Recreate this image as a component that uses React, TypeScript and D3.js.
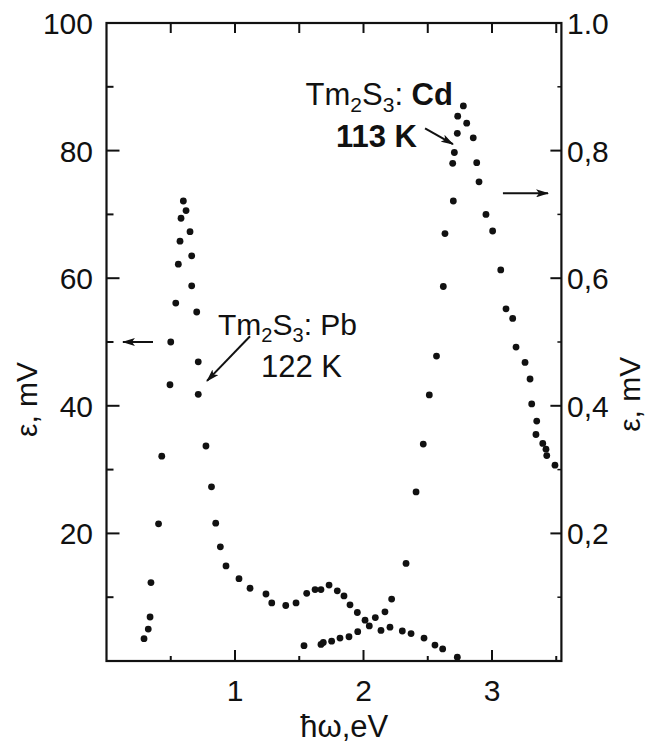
import React from 'react';
import * as d3 from 'd3';

// Tm2S3:Pb, 122 K  (left axis, mV)
const pbEnergy = [0.292, 0.325, 0.339, 0.346, 0.405, 0.430, 0.494, 0.500, 0.539, 0.559, 0.572, 0.580, 0.598,
  0.619, 0.650, 0.663, 0.663, 0.702, 0.714, 0.714, 0.774, 0.817, 0.850, 0.886, 0.930, 1.031, 1.117, 1.241,
  1.286, 1.395, 1.475, 1.558, 1.623, 1.669, 1.732, 1.796, 1.848, 1.895, 1.952, 2.012, 2.136, 2.206, 2.302,
  2.370, 2.471, 2.556, 2.616, 2.730];
const pbSignal = [3.5, 5.0, 6.9, 12.3, 21.5, 32.1, 43.3, 50.0, 56.1, 62.2, 65.8, 69.4, 72.1,
  70.6, 67.3, 63.5, 58.8, 54.7, 46.9, 41.8, 33.7, 27.3, 21.6, 17.9, 14.9, 12.9, 11.4, 10.5,
  9.1, 8.7, 9.1, 10.6, 11.2, 11.2, 11.9, 11.0, 10.2, 8.8, 7.6, 6.4, 4.8, 5.3, 4.7,
  4.3, 3.6, 2.5, 1.9, 0.6];

// Tm2S3:Cd, 113 K  (right axis, mV)
const cdEnergy = [1.537, 1.669, 1.687, 1.752, 1.817, 1.887, 1.955, 2.045, 2.092, 2.167, 2.219, 2.331, 2.409,
  2.465, 2.512, 2.568, 2.621, 2.634, 2.699, 2.694, 2.707, 2.730, 2.733, 2.777, 2.803, 2.854, 2.881, 2.899,
  2.953, 3.005, 3.068, 3.109, 3.161, 3.187, 3.257, 3.296, 3.309, 3.348, 3.342, 3.395, 3.420, 3.426, 3.490];
const cdSignal = [0.024, 0.026, 0.029, 0.031, 0.036, 0.038, 0.046, 0.055, 0.068, 0.077, 0.097, 0.153, 0.265,
  0.340, 0.417, 0.478, 0.587, 0.670, 0.721, 0.780, 0.797, 0.827, 0.854, 0.870, 0.843, 0.820, 0.781, 0.751,
  0.700, 0.674, 0.613, 0.552, 0.537, 0.492, 0.468, 0.442, 0.403, 0.376, 0.355, 0.341, 0.332, 0.322, 0.307];

const xMajorTicks = [1, 2, 3];
const xMinorTicks = [0.5, 1.5, 2.5, 3.5];
const xTickLabels = ['1', '2', '3'];
const leftMajorTicks = [20, 40, 60, 80, 100];
const leftMinorTicks = [10, 30, 50, 70, 90];
const leftTickLabels = ['20', '40', '60', '80', '100'];
const rightMajorTicks = [0.2, 0.4, 0.6, 0.8, 1.0];
const rightMinorTicks = [0.1, 0.3, 0.5, 0.7, 0.9];
const rightTickLabels = ['0,2', '0,4', '0,6', '0,8', '1.0'];

const W = 651;
const H = 747;
const FONT = "'Liberation Sans', Arial, Helvetica, sans-serif";

const App = () => {
  const x = d3.scaleLinear().domain([0, 3.54]).range([106.5, 561.4]);
  const yL = d3.scaleLinear().domain([0, 100]).range([661, 23]);
  const yR = d3.scaleLinear().domain([0, 1]).range([661, 23]);

  const [x0, x1] = x.range();
  const [yb, yt] = yL.range();

  const pbPoints = pbEnergy.map((e, i) => [x(e), yL(pbSignal[i])]);
  const cdPoints = cdEnergy.map((e, i) => [x(e), yR(cdSignal[i])]);

  return (
    <div style={{ position: 'absolute', left: 0, top: 0 }}>
      <svg width={W} height={H} style={{ display: 'block', background: '#fff' }} fontFamily={FONT}>
        <defs>
          <marker id="head" viewBox="0 0 13 8" refX="12" refY="4" markerWidth="13" markerHeight="8"
            markerUnits="userSpaceOnUse" orient="auto">
            <path d="M0,0 L13,4 L0,8 L3,4 Z" fill="#111" />
          </marker>
        </defs>

        {/* frame */}
        <rect x={x0} y={yt} width={x1 - x0} height={yb - yt} fill="none" stroke="#111" strokeWidth={2.2} />

        {/* bottom ticks */}
        {xMajorTicks.map(t => (
          <line key={'xb' + t} x1={x(t)} x2={x(t)} y1={yb} y2={yb - 11} stroke="#111" strokeWidth={2} />
        ))}
        {xMinorTicks.filter(t => t < 3.54).map(t => (
          <line key={'xbm' + t} x1={x(t)} x2={x(t)} y1={yb} y2={yb - 5} stroke="#111" strokeWidth={2} />
        ))}
        {/* top ticks */}
        {[...xMajorTicks, ...xMinorTicks].filter(t => t < 3.54).map(t => (
          <line key={'xt' + t} x1={x(t)} x2={x(t)} y1={yt} y2={yt + 10} stroke="#111" strokeWidth={2} />
        ))}
        {/* left ticks */}
        {leftMajorTicks.map(t => (
          <line key={'yl' + t} x1={x0} x2={x0 + 13} y1={yL(t)} y2={yL(t)} stroke="#111" strokeWidth={2} />
        ))}
        {leftMinorTicks.map(t => (
          <line key={'ylm' + t} x1={x0} x2={x0 + 7} y1={yL(t)} y2={yL(t)} stroke="#111" strokeWidth={2} />
        ))}
        {/* right ticks */}
        {rightMajorTicks.map(t => (
          <line key={'yr' + t} x1={x1} x2={x1 - 11} y1={yR(t)} y2={yR(t)} stroke="#111" strokeWidth={2} />
        ))}
        {rightMinorTicks.map(t => (
          <line key={'yrm' + t} x1={x1} x2={x1 - 4} y1={yR(t)} y2={yR(t)} stroke="#111" strokeWidth={1.5} />
        ))}

        {/* tick labels */}
        {xMajorTicks.map((t, i) => (
          <text key={'xl' + t} x={x(t)} y={701} textAnchor="middle" fontSize={30} fill="#111">{xTickLabels[i]}</text>
        ))}
        {leftMajorTicks.map((t, i) => (
          <text key={'lyl' + t} x={93} y={yL(t) + 11} textAnchor="end" fontSize={30} fill="#111">{leftTickLabels[i]}</text>
        ))}
        {rightMajorTicks.map((t, i) => (
          <text key={'ryl' + t} x={567} y={yR(t) + 11} textAnchor="start" fontSize={30} fill="#111">{rightTickLabels[i]}</text>
        ))}

        {/* axis titles */}
        <text x={x(1.85)} y={737} textAnchor="middle" fontSize={31} fill="#111">ħω,eV</text>
        <text transform={`translate(37, ${yL(41)}) rotate(-90)`} textAnchor="middle" fontSize={30} fill="#111">ε, mV</text>
        <text transform={`translate(640, ${yR(0.418)}) rotate(-90)`} textAnchor="middle" fontSize={30} fill="#111">ε, mV</text>

        {/* data */}
        {pbPoints.map((p, i) => (
          <circle key={'pb' + i} cx={p[0]} cy={p[1]} r={3.4} fill="#111" />
        ))}
        {cdPoints.map((p, i) => (
          <circle key={'cd' + i} cx={p[0]} cy={p[1]} r={3.4} fill="#111" />
        ))}

        {/* axis-pointing arrows */}
        <line x1={x(0.362)} y1={yL(50)} x2={x(0.128)} y2={yL(50)} stroke="#111" strokeWidth={2} markerEnd="url(#head)" />
        <line x1={x(3.085)} y1={yR(0.733)} x2={x(3.436)} y2={yR(0.733)} stroke="#111" strokeWidth={2} markerEnd="url(#head)" />

        {/* Pb annotation */}
        <text x={x(0.868)} y={yL(51.1)} fontSize={30} fill="#111">
          Tm<tspan fontSize={20} dy={7}>2</tspan><tspan dy={-7}>S</tspan><tspan fontSize={20} dy={7}>3</tspan><tspan dy={-7}>: Pb</tspan>
        </text>
        <text x={x(1.202)} y={yL(44.5)} fontSize={31} fill="#111">122 K</text>
        <line x1={x(1.117)} y1={yL(50.9)} x2={x(0.782)} y2={yL(43.9)} stroke="#111" strokeWidth={2} markerEnd="url(#head)" />

        {/* Cd annotation */}
        <text x={x(2.696)} y={yR(0.871)} textAnchor="end" fontSize={31} fill="#111">
          Tm<tspan fontSize={21} dy={7}>2</tspan><tspan dy={-7}>S</tspan><tspan fontSize={21} dy={7}>3</tspan><tspan dy={-7}>: </tspan><tspan fontWeight="bold">Cd</tspan>
        </text>
        <text x={x(2.416)} y={yR(0.806)} textAnchor="end" fontSize={31} fontWeight="bold" fill="#111">113 K</text>
        <line x1={x(2.479)} y1={yR(0.835)} x2={x(2.696)} y2={yR(0.81)} stroke="#111" strokeWidth={2} markerEnd="url(#head)" />
      </svg>
    </div>
  );
};

export default App;
